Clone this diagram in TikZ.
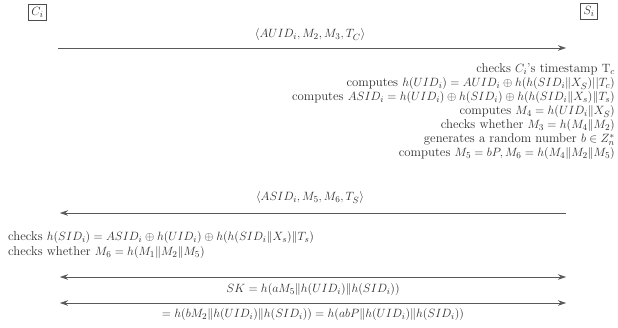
\documentclass[tikz,border=0pt]{standalone}
\usetikzlibrary{arrows.meta}
\begin{document}
\begin{tikzpicture}[x=1pt,y=-1pt,
  every node/.style={font=\fontsize{12.8}{15}\selectfont, text=black!82, inner sep=0pt},
  party/.style={draw=black!70, inner sep=3pt},
  msg/.style={draw=black!65, line width=0.6pt, -{Stealth[length=8pt,width=5.5pt]}},
  both/.style={draw=black!65, line width=0.6pt, {Stealth[length=8pt,width=5.5pt]}-{Stealth[length=8pt,width=5.5pt]}},
  rline/.style={anchor=base east},
  lline/.style={anchor=base west},
  cline/.style={anchor=base}]
\useasboundingbox (0,0) rectangle (618,328);
\node[party] (ci) at (37.5,12.5) {$C_i$};
\node[party] (si) at (589,11.5) {$S_i$};

\coordinate (a1s) at (58,48);
\coordinate (a1e) at (566,48);
\draw[msg] (a1s) -- (a1e);
\node[cline] (l1) at (310,38) {$\langle AUID_i, M_2, M_3, T_C\rangle$};

\node[rline] (r1) at (615,73) {checks $C_i$'s timestamp $\mathrm{T}_c$};
\node[rline] (r2) at (615,87) {computes $h(UID_i) = AUID_i \oplus h(h(SID_i\|X_S)||T_c)$};
\node[rline] (r3) at (615,101) {computes $ASID_i = h(UID_i) \oplus h(SID_i) \oplus h(h(SID_i\|X_s)\|T_s)$};
\node[rline] (r4) at (615,115) {computes $M_4 = h(UID_i\|X_S)$};
\node[rline] (r5) at (615,129) {checks whether $M_3 = h(M_4\|M_2)$};
\node[rline] (r6) at (615,143) {generates a random number $b \in Z_n^*$};
\node[rline] (r7) at (615,157) {computes $M_5 = bP, M_6 = h(M_4\|M_2\|M_5)$};

\node[cline] (l2) at (310,201) {$\langle ASID_i, M_5, M_6, T_S\rangle$};
\coordinate (a2s) at (566,213);
\coordinate (a2e) at (60,213);
\draw[msg] (a2s) -- (a2e);

\node[lline] (c1) at (8,241) {checks $h(SID_i) = ASID_i \oplus h(UID_i) \oplus h(h(SID_i\|X_s)\|T_s)$};
\node[lline] (c2) at (8,256) {checks whether $M_6 = h(M_1\|M_2\|M_5)$};

\coordinate (b1s) at (60,277);
\coordinate (b1e) at (566,277);
\draw[both] (b1s) -- (b1e);
\node[cline] (k1) at (313,293) {$SK = h(aM_5\|h(UID_i)\|h(SID_i))$};
\coordinate (b2s) at (60,303);
\coordinate (b2e) at (566,303);
\draw[both] (b2s) -- (b2e);
\node[cline] (k2) at (313,318) {$= h(bM_2\|h(UID_i)\|h(SID_i)) = h(abP\|h(UID_i)\|h(SID_i))$};
\end{tikzpicture}
\end{document}
